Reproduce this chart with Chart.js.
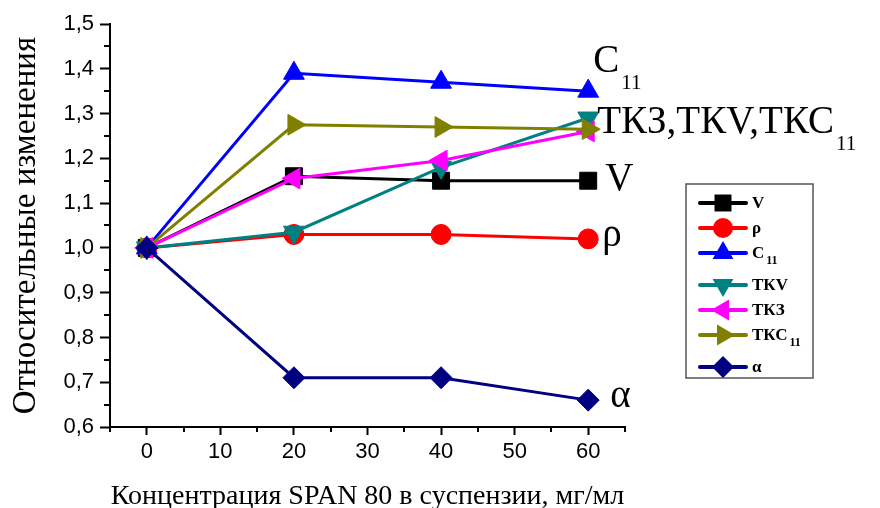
<!DOCTYPE html>
<html>
<head>
<meta charset="utf-8">
<script src="https://cdn.jsdelivr.net/npm/chart.js@4.4.0/dist/chart.umd.min.js"></script>
<style>
  html, body { margin: 0; padding: 0; background: #fff; }
</style>
</head>
<body>
<canvas id="chart" width="880" height="508"></canvas>
<script>
// data
var concentration = [0, 20, 40, 60];
var valuesV = [1.0, 1.16, 1.15, 1.15];
var valuesRho = [1.0, 1.03, 1.03, 1.02];
var valuesC11 = [1.0, 1.39, 1.37, 1.35];
var valuesTKV = [1.0, 1.035, 1.18, 1.29];
var valuesTK3 = [1.0, 1.155, 1.195, 1.26];
var valuesTKC11 = [1.0, 1.275, 1.27, 1.265];
var valuesAlpha = [1.0, 0.71, 0.71, 0.66];

var xTicks = [0, 10, 20, 30, 40, 50, 60];
var yTicks = [0.6, 0.7, 0.8, 0.9, 1.0, 1.1, 1.2, 1.3, 1.4, 1.5];

var legendNames = ['V', 'ρ', 'C', 'ТКV', 'ТКЗ', 'ТКС', 'α'];
var legendSubs = ['', '', '11', '', '', '11', ''];

var serif = '"Liberation Serif", "Times New Roman", serif';
var sans = '"Liberation Sans", Arial, sans-serif';

function pairs(ys) {
    return concentration.map(function (x, i) { return { x: x, y: ys[i] }; });
}

function series(label, ys, color, style, rotation, radius, order) {
    return {
        label: label,
        data: pairs(ys),
        borderColor: color,
        backgroundColor: color,
        borderWidth: 3,
        pointStyle: style,
        rotation: rotation,
        pointRadius: radius,
        pointHoverRadius: radius,
        pointBorderWidth: 1,
        pointBorderColor: color,
        pointBackgroundColor: color,
        order: order,
        clip: false
    };
}

var datasets = [
    series('V', valuesV, '#000000', 'rect', 0, 12, 6),
    series('ρ', valuesRho, '#ff0000', 'circle', 0, 10, 5),
    series('C11', valuesC11, '#0000ff', 'triangle', 0, 12, 4),
    series('ТКV', valuesTKV, '#008080', 'triangle', 180, 12, 3),
    series('ТКЗ', valuesTK3, '#ff00ff', 'triangle', 270, 12, 2),
    series('ТКС11', valuesTKC11, '#808000', 'triangle', 90, 12, 1),
    series('α', valuesAlpha, '#000080', 'rectRot', 0, 11, 0)
];

// minor ticks (every 5 on x, every 0.05 on y)
var minorTicks = {
    id: 'minorTicks',
    afterDraw: function (chart) {
        var ctx = chart.ctx, xs = chart.scales.x, ys = chart.scales.y;
        ctx.save();
        ctx.strokeStyle = '#000';
        ctx.lineWidth = 2;
        ctx.beginPath();
        for (var v = -5; v <= 65; v += 10) {
            var px = Math.round(xs.getPixelForValue(v));
            ctx.moveTo(px, xs.top);
            ctx.lineTo(px, xs.top + 5);
        }
        for (var k = 13; k <= 29; k += 2) {
            var py = Math.round(ys.getPixelForValue(k / 20));
            ctx.moveTo(ys.right - 6, py);
            ctx.lineTo(ys.right, py);
        }
        ctx.stroke();
        ctx.restore();
    }
};

function textWithSub(ctx, main, sub, x, y, size, weight, ratio) {
    ctx.font = weight + ' ' + size + 'px ' + serif;
    ctx.fillText(main, x, y);
    if (sub) {
        var w = ctx.measureText(main).width;
        ctx.font = weight + ' ' + Math.round(size * ratio) + 'px ' + serif;
        ctx.fillText(sub, x + w + 2, y + size * 0.42);
    }
}

// labels at the right end of the curves
var endLabels = {
    id: 'endLabels',
    afterDraw: function (chart) {
        var ctx = chart.ctx, xs = chart.scales.x, ys = chart.scales.y;
        var x60 = xs.getPixelForValue(60);
        ctx.save();
        ctx.fillStyle = '#000';
        ctx.textBaseline = 'alphabetic';
        textWithSub(ctx, 'C', '11', x60 + 5, ys.getPixelForValue(valuesC11[3]) - 19, 39, 'normal', 0.55);
        textWithSub(ctx, 'ТКЗ,ТКV,ТКС', '11', x60 + 9, ys.getPixelForValue(valuesTKC11[3]) + 4, 39, 'normal', 0.55);
        textWithSub(ctx, 'V', '', x60 + 17, ys.getPixelForValue(valuesV[3]) + 9, 39, 'normal', 0.55);
        textWithSub(ctx, 'ρ', '', x60 + 14, ys.getPixelForValue(valuesRho[3]) + 7, 39, 'normal', 0.55);
        textWithSub(ctx, 'α', '', x60 + 22, ys.getPixelForValue(valuesAlpha[3]) + 7, 39, 'normal', 0.55);
        ctx.restore();
    }
};

// boxed legend with line + marker samples
var boxLegend = {
    id: 'boxLegend',
    afterDraw: function (chart) {
        var ctx = chart.ctx;
        var rows = [203, 228, 253, 285, 310, 335, 367];
        ctx.save();
        ctx.strokeStyle = '#555';
        ctx.lineWidth = 1.5;
        ctx.strokeRect(686, 184, 127, 194);
        chart.data.datasets.forEach(function (ds, i) {
            var y = rows[i];
            ctx.strokeStyle = ds.borderColor;
            ctx.lineWidth = 4;
            ctx.lineCap = 'round';
            ctx.beginPath();
            ctx.moveTo(700, y);
            ctx.lineTo(746, y);
            ctx.stroke();
            ctx.fillStyle = ds.backgroundColor;
            Chart.helpers.drawPoint(ctx, {
                pointStyle: ds.pointStyle,
                rotation: ds.rotation,
                radius: ds.pointRadius,
                borderWidth: 0
            }, 723, y);
            ctx.fillStyle = '#000';
            ctx.textBaseline = 'middle';
            textWithSub(ctx, legendNames[i], legendSubs[i], 752, y + 1, 17, 'bold', 0.7);
        });
        ctx.restore();
    }
};

var ctx = document.getElementById('chart').getContext('2d');
var chart = new Chart(ctx, {
    type: 'line',
    data: { datasets: datasets },
    plugins: [minorTicks, endLabels, boxLegend],
    options: {
        responsive: false,
        animation: false,
        devicePixelRatio: 1,
        layout: { padding: { left: 0, right: 255, top: 24, bottom: 0 } },
        plugins: {
            legend: { display: false },
            tooltip: { enabled: false }
        },
        scales: {
            x: {
                type: 'linear',
                min: -5,
                max: 65,
                afterBuildTicks: function (s) { s.ticks = xTicks.map(function (v) { return { value: v }; }); },
                afterFit: function (s) { s.height = 81; },
                border: { color: '#000', width: 2 },
                grid: { drawOnChartArea: false, tickLength: 8, tickColor: '#000', tickWidth: 2 },
                ticks: { color: '#000', font: { family: sans, size: 22 }, padding: 4, maxRotation: 0 },
                title: {
                    display: true,
                    text: 'Концентрация SPAN 80 в суспензии, мг/мл',
                    color: '#000',
                    font: { family: serif, size: 28 },
                    padding: { top: 0, bottom: -5 }
                }
            },
            y: {
                min: 0.6,
                max: 1.5,
                afterBuildTicks: function (s) { s.ticks = yTicks.map(function (v) { return { value: v }; }); },
                afterFit: function (s) { s.width = 110; },
                border: { color: '#000', width: 2 },
                grid: { drawOnChartArea: false, tickLength: 10, tickColor: '#000', tickWidth: 2 },
                ticks: {
                    color: '#000',
                    font: { family: sans, size: 22 },
                    padding: 6,
                    callback: function (v) { return v.toFixed(1).replace('.', ','); }
                },
                title: {
                    display: true,
                    text: 'Относительные изменения',
                    color: '#000',
                    font: { family: serif, size: 33 },
                    padding: { top: 7, bottom: 0 }
                }
            }
        }
    }
});
</script>
</body>
</html>
